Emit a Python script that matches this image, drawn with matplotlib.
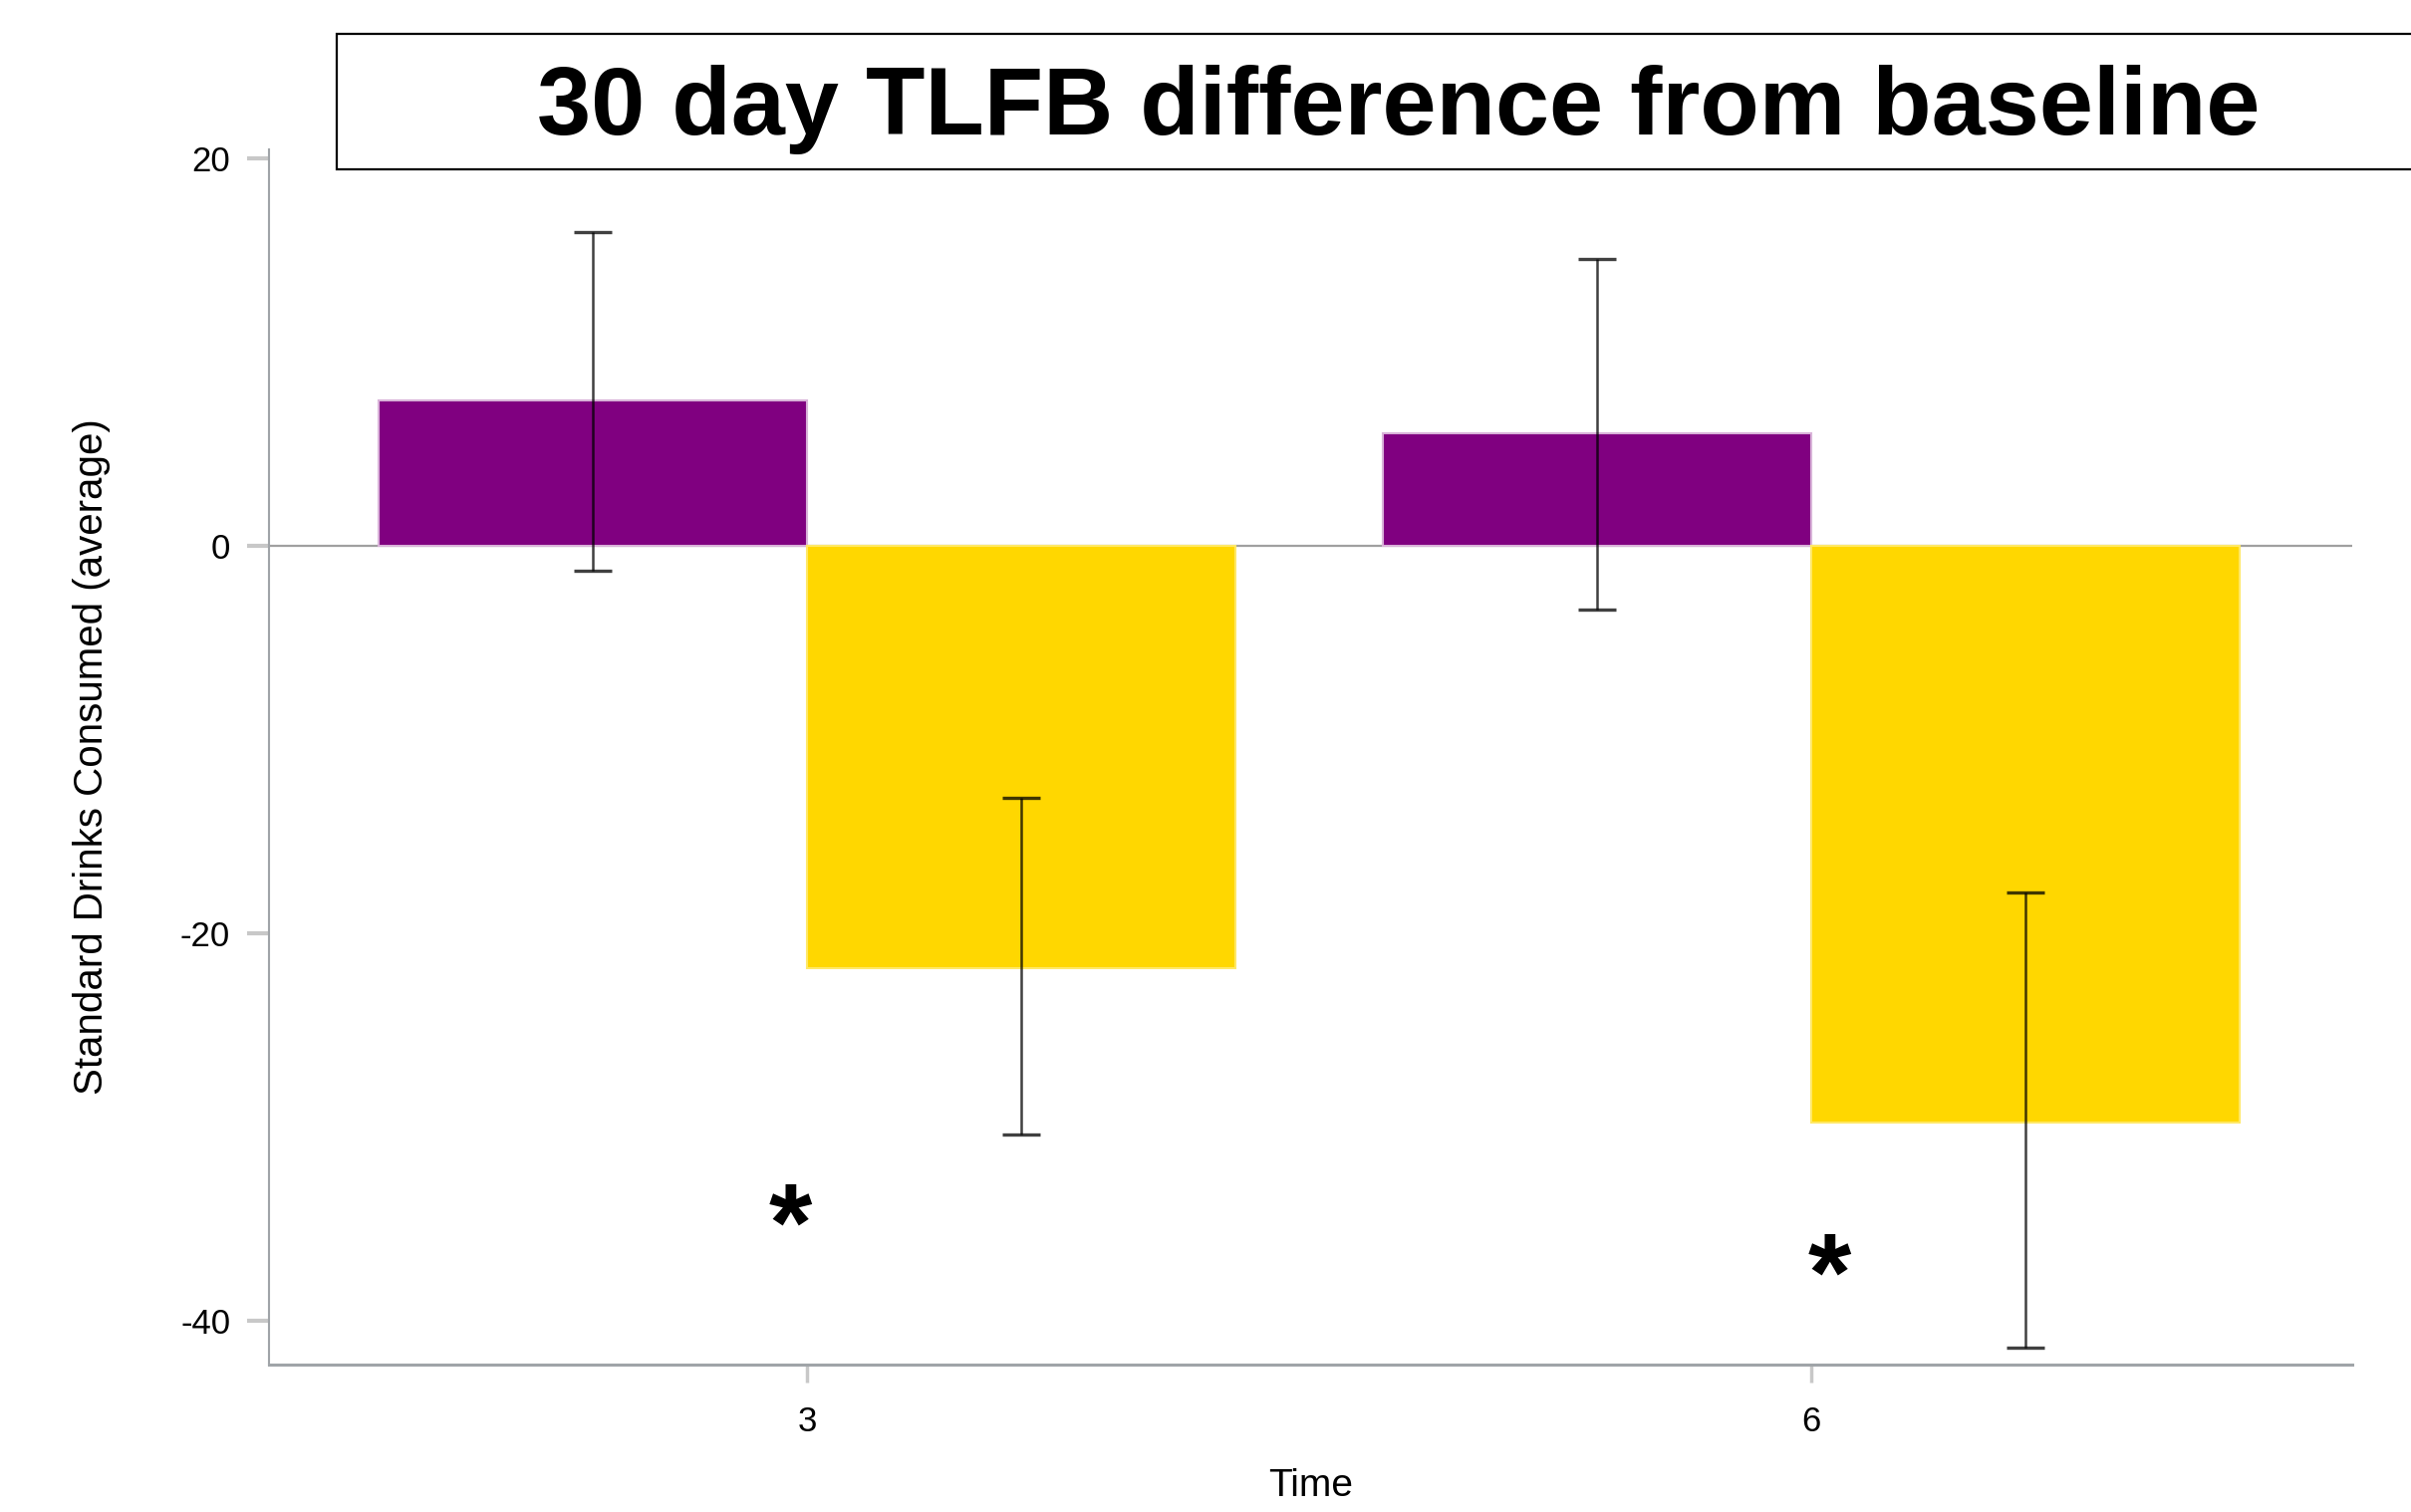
import matplotlib
matplotlib.use("Agg")
import matplotlib.pyplot as plt
from matplotlib.patches import Rectangle
import numpy as np

plt.rcParams["axes.unicode_minus"] = False

# ---- data ----
time_labels = ["3", "6"]
group_a_means = [7.5, 5.8]          # purple
group_b_means = [-21.8, -29.8]      # yellow
group_a_upper = [16.2, 14.8]
group_a_lower = [-1.3, -3.3]
group_b_upper = [-13.0, -17.9]
group_b_lower = [-30.4, -41.4]
star_x = [-0.017, 1.018]
star_y = [-35.4, -38.0]
yticks = [-40, -20, 0, 20]

title = "30 day TLFB difference from baseline"
ylabel = "Standard Drinks Consumed (average)"
xlabel = "Time"

narrow = ["Liberation Sans Narrow", "Liberation Sans", "DejaVu Sans"]

fig = plt.figure(figsize=(24.2, 15.18), dpi=100)
ax = fig.add_axes([0.1116, 0.0972, 0.864, 0.8042])

x = np.arange(len(time_labels))
w = 0.427
purple = "#800080"
gold = "#FFD700"

ax.bar(x - w / 2, group_a_means, width=w, color=purple, edgecolor="#d9b3d9",
       linewidth=1.5, zorder=2)
ax.bar(x + w / 2, group_b_means, width=w, color=gold, edgecolor="#ffe866",
       linewidth=1.5, zorder=2)

ax.axhline(0, color="#a0a0a0", linewidth=1.6, zorder=1)

for xs, m, up, lo in [(x - w / 2, group_a_means, group_a_upper, group_a_lower),
                      (x + w / 2, group_b_means, group_b_upper, group_b_lower)]:
    m = np.array(m)
    yerr = np.vstack([m - np.array(lo), np.array(up) - m])
    ax.errorbar(xs, m, yerr=yerr, fmt="none", ecolor="black", alpha=0.75,
                elinewidth=1.8, capsize=14, capthick=2.4, zorder=3)

for sx, sy in zip(star_x, star_y):
    ax.text(sx, sy, "*", ha="center", va="center", fontsize=80,
            fontweight="bold", family=["Liberation Sans", "DejaVu Sans"])

ax.set_xlim(-0.536, 1.539)
ax.set_ylim(-42.3, 20.48)
ax.set_xticks(x)
ax.set_xticklabels(time_labels)
ax.set_yticks(yticks)

for s in ["top", "right"]:
    ax.spines[s].set_visible(False)
ax.spines["left"].set_color("#a0a4a8")
ax.spines["left"].set_linewidth(1.5)
ax.spines["bottom"].set_color("#a0a4a8")
ax.spines["bottom"].set_linewidth(2.2)

ax.tick_params(axis="y", length=16, width=3, color="#c8c8c8", pad=12,
               labelsize=25)
ax.tick_params(axis="x", length=13, width=2.5, color="#c8c8c8", pad=16,
               labelsize=25)
for lab in ax.get_xticklabels() + ax.get_yticklabels():
    lab.set_family(narrow)

ax.set_xlabel(xlabel, fontsize=28, family=narrow, labelpad=22)
ax.set_ylabel(ylabel, fontsize=29, family=narrow, labelpad=50)

# title box
fig.patches.append(Rectangle((338 / 2420, 1 - 170 / 1518), (2440 - 338) / 2420,
                             (170 - 34) / 1518, transform=fig.transFigure,
                             facecolor="white", edgecolor="black",
                             linewidth=1.6, zorder=5))
fig.text(1404 / 2420, 1 - 110 / 1518, title, ha="center", va="center",
         fontsize=70, fontweight="bold", family=["Liberation Sans", "DejaVu Sans"],
         zorder=6)

fig.savefig("out.png", dpi=100)
